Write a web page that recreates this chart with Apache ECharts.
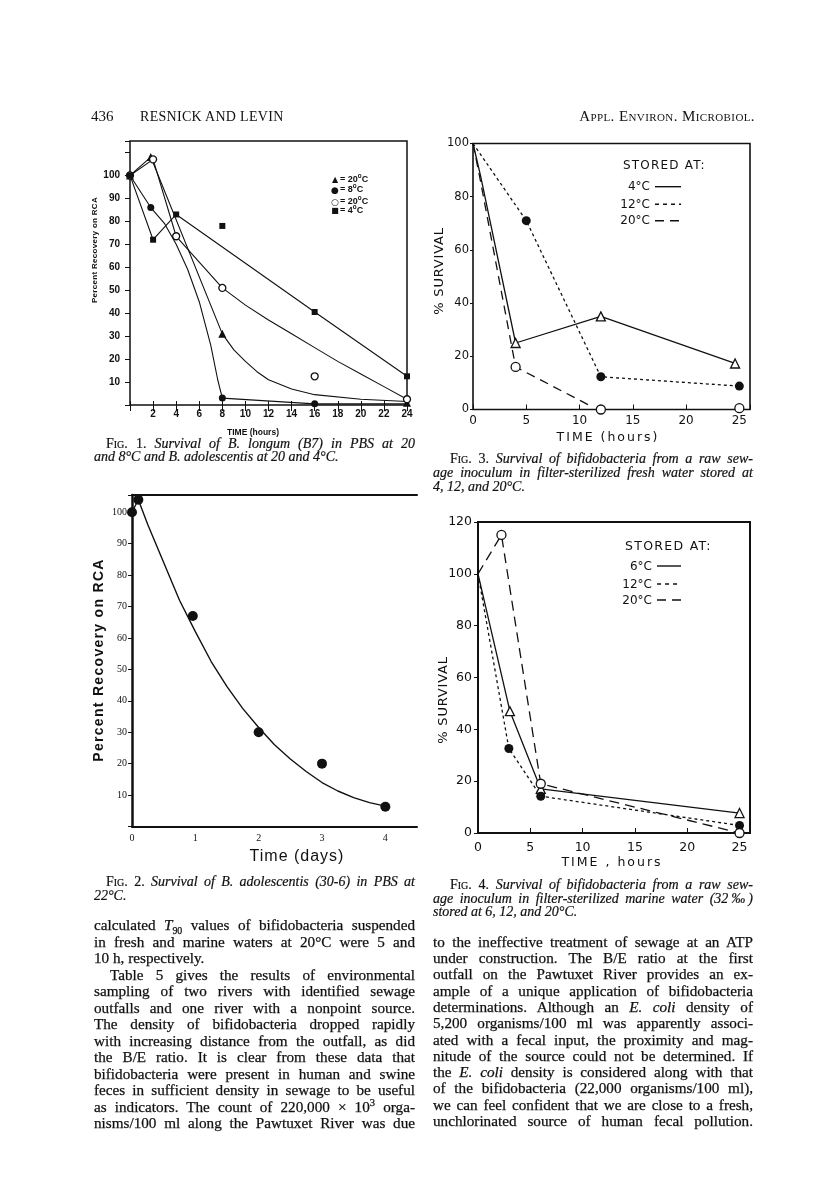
<!DOCTYPE html>
<html>
<head>
<meta charset="utf-8">
<script src="https://cdn.jsdelivr.net/npm/echarts@6/dist/echarts.min.js"></script>
<style>
body{margin:0;background:#fff;}
#page{position:relative;width:816px;height:1198px;overflow:hidden;background:#fff;color:#111;}
#chart{position:absolute;left:0;top:0;width:816px;height:1198px;}
.t{position:absolute;white-space:nowrap;line-height:1;}
.c{transform:translate(-50%,-50%);}
.rot{transform:translate(-50%,-50%) rotate(-90deg);}
.sans{font-family:"Liberation Sans",Arial,sans-serif;}
.lett{font-family:"DejaVu Sans",sans-serif;}
.body{position:absolute;font:15.2px/16px "Liberation Serif",serif;white-space:nowrap;text-align:justify;text-align-last:justify;-webkit-text-stroke:0.25px #111;}
.cap{position:absolute;font:italic 14px/14px "Liberation Serif",serif;white-space:nowrap;text-align:justify;text-align-last:justify;-webkit-text-stroke:0.2px #111;}
.body.last,.cap.last{text-align-last:left;}
.sc{font-style:normal;font-variant:small-caps;}
.up{font-style:normal;}
sup{font-size:70%;line-height:0;}
sub{font-size:65%;line-height:0;}
</style>
</head>
<body>
<div id="page">
<div id="chart"></div>

<!-- page header -->
<div class="t" style="left:91px;top:108px;font:15px 'Liberation Serif',serif">436</div>
<div class="t" style="left:140px;top:109px;font:14px 'Liberation Serif',serif;letter-spacing:0.3px">RESNICK AND LEVIN</div>
<div class="t" style="right:61px;top:108px;font:15px 'Liberation Serif',serif;font-variant:small-caps;letter-spacing:0.4px">Appl. Environ. Microbiol.</div>

<!-- fig 1 texts -->
<div class="t rot sans" style="left:95px;top:250px;font-weight:bold;font-size:8px;letter-spacing:0.3px">Percent Recovery on RCA</div>
<div class="t c sans" style="left:253px;top:432px;font-weight:bold;font-size:8.5px">TIME (hours)</div>
<div class="t c lett" style="left:335px;top:180px;font-size:8px">▲</div>
<div class="t c lett" style="left:335px;top:189.5px;font-size:9px">●</div>
<div class="t c lett" style="left:335px;top:201.5px;font-size:9px">○</div>
<div class="t c lett" style="left:335px;top:211px;font-size:8px">■</div>
<div class="t sans" style="left:340px;top:175px;font-weight:bold;font-size:9px">= 20<sup>o</sup>C</div>
<div class="t sans" style="left:340px;top:184.5px;font-weight:bold;font-size:9px">= 8<sup>o</sup>C</div>
<div class="t sans" style="left:340px;top:196.5px;font-weight:bold;font-size:9px">= 20<sup>o</sup>C</div>
<div class="t sans" style="left:340px;top:206px;font-weight:bold;font-size:9px">= 4<sup>o</sup>C</div>
<div class="cap" style="left:106px;top:437px;width:309px"><span class="sc">Fig.</span> <span class="up">1.</span> Survival of B. longum (B7) in PBS at 20</div>
<div class="cap last" style="left:94px;top:450px;width:321px">and 8°C and B. adolescentis at 20 and 4°C.</div>

<!-- fig 3 texts -->
<div class="t rot lett" style="left:438px;top:271px;font-size:13px;letter-spacing:0.8px">% SURVIVAL</div>
<div class="t c lett" style="left:608px;top:437px;font-size:12.5px;letter-spacing:2px">TIME (hours)</div>
<div class="t lett" style="left:623px;top:159px;font-size:12px;letter-spacing:1.2px">STORED AT:</div>
<div class="t lett" style="right:166px;top:180px;font-size:12px">4°C</div>
<div class="t lett" style="right:166px;top:198px;font-size:12px">12°C</div>
<div class="t lett" style="right:166px;top:214px;font-size:12px">20°C</div>
<svg style="position:absolute;left:654px;top:180px" width="30" height="46">
  <line x1="1" y1="6.7" x2="27" y2="6.7" stroke="#111" stroke-width="1.4"/>
  <line x1="1" y1="24.3" x2="27" y2="24.3" stroke="#111" stroke-width="1.4" stroke-dasharray="4 4"/>
  <line x1="1" y1="40.7" x2="27" y2="40.7" stroke="#111" stroke-width="1.4" stroke-dasharray="9 6"/>
</svg>
<div class="cap" style="left:450px;top:451.5px;width:303px"><span class="sc">Fig.</span> <span class="up">3.</span> Survival of bifidobacteria from a raw sew-</div>
<div class="cap" style="left:433px;top:465.5px;width:320px">age inoculum in filter-sterilized fresh water stored at</div>
<div class="cap last" style="left:433px;top:479.5px;width:320px">4, 12, and 20°C.</div>

<!-- fig 2 texts -->
<div class="t rot sans" style="left:98px;top:660px;font-weight:bold;font-size:14px;letter-spacing:1.3px">Percent Recovery on RCA</div>
<div class="t c sans" style="left:297px;top:856px;font-size:16px;letter-spacing:1px">Time (days)</div>
<div class="cap" style="left:106px;top:875px;width:309px"><span class="sc">Fig.</span> <span class="up">2.</span> Survival of B. adolescentis (30-6) in PBS at</div>
<div class="cap last" style="left:94px;top:888.5px;width:321px">22°C.</div>

<!-- fig 4 texts -->
<div class="t rot lett" style="left:442px;top:700px;font-size:13px;letter-spacing:0.8px">% SURVIVAL</div>
<div class="t c lett" style="left:612px;top:862px;font-size:12.5px;letter-spacing:2px">TIME , hours</div>
<div class="t lett" style="left:625px;top:540px;font-size:12.5px;letter-spacing:1.3px">STORED AT:</div>
<div class="t lett" style="right:164px;top:560px;font-size:12px">6°C</div>
<div class="t lett" style="right:164px;top:578px;font-size:12px">12°C</div>
<div class="t lett" style="right:164px;top:594px;font-size:12px">20°C</div>
<svg style="position:absolute;left:656px;top:560px" width="30" height="46">
  <line x1="1" y1="6" x2="25" y2="6" stroke="#111" stroke-width="1.4"/>
  <line x1="1" y1="24" x2="25" y2="24" stroke="#111" stroke-width="1.4" stroke-dasharray="4 4"/>
  <line x1="1" y1="40" x2="27" y2="40" stroke="#111" stroke-width="1.4" stroke-dasharray="9 6"/>
</svg>
<div class="cap" style="left:450px;top:878px;width:303px"><span class="sc">Fig.</span> <span class="up">4.</span> Survival of bifidobacteria from a raw sew-</div>
<div class="cap" style="left:433px;top:891.5px;width:320px">age inoculum in filter-sterilized marine water (32‰)</div>
<div class="cap last" style="left:433px;top:905px;width:320px">stored at 6, 12, and 20°C.</div>

<!-- body text, left column -->
<div class="body" style="left:94px;top:917px;width:321px">calculated <i>T</i><sub>90</sub> values of bifidobacteria suspended</div>
<div class="body" style="left:94px;top:933.5px;width:321px">in fresh and marine waters at 20°C were 5 and</div>
<div class="body last" style="left:94px;top:950px;width:321px">10 h, respectively.</div>
<div class="body" style="left:110px;top:966.5px;width:305px">Table 5 gives the results of environmental</div>
<div class="body" style="left:94px;top:983px;width:321px">sampling of two rivers with identified sewage</div>
<div class="body" style="left:94px;top:999.5px;width:321px">outfalls and one river with a nonpoint source.</div>
<div class="body" style="left:94px;top:1016px;width:321px">The density of bifidobacteria dropped rapidly</div>
<div class="body" style="left:94px;top:1032.5px;width:321px">with increasing distance from the outfall, as did</div>
<div class="body" style="left:94px;top:1049px;width:321px">the B/E ratio. It is clear from these data that</div>
<div class="body" style="left:94px;top:1065.5px;width:321px">bifidobacteria were present in human and swine</div>
<div class="body" style="left:94px;top:1082px;width:321px">feces in sufficient density in sewage to be useful</div>
<div class="body" style="left:94px;top:1098.5px;width:321px">as indicators. The count of 220,000 × 10<sup>3</sup> orga-</div>
<div class="body" style="left:94px;top:1115px;width:321px">nisms/100 ml along the Pawtuxet River was due</div>

<!-- body text, right column -->
<div class="body" style="left:433px;top:933.7px;width:320px">to the ineffective treatment of sewage at an ATP</div>
<div class="body" style="left:433px;top:950px;width:320px">under construction. The B/E ratio at the first</div>
<div class="body" style="left:433px;top:966.3px;width:320px">outfall on the Pawtuxet River provides an ex-</div>
<div class="body" style="left:433px;top:982.6px;width:320px">ample of a unique application of bifidobacteria</div>
<div class="body" style="left:433px;top:998.9px;width:320px">determinations. Although an <i>E. coli</i> density of</div>
<div class="body" style="left:433px;top:1015.2px;width:320px">5,200 organisms/100 ml was apparently associ-</div>
<div class="body" style="left:433px;top:1031.5px;width:320px">ated with a fecal input, the proximity and mag-</div>
<div class="body" style="left:433px;top:1047.8px;width:320px">nitude of the source could not be determined. If</div>
<div class="body" style="left:433px;top:1064.1px;width:320px">the <i>E. coli</i> density is considered along with that</div>
<div class="body" style="left:433px;top:1080.4px;width:320px">of the bifidobacteria (22,000 organisms/100 ml),</div>
<div class="body" style="left:433px;top:1096.7px;width:320px">we can feel confident that we are close to a fresh,</div>
<div class="body" style="left:433px;top:1113px;width:320px">unchlorinated source of human fecal pollution.</div>
</div>

<script>
// ---- Fig. 1: B. longum / B. adolescentis in PBS (hours, % recovery) ----
const f1XLabels = [2, 4, 6, 8, 10, 12, 14, 16, 18, 20, 22, 24];
const f1YLabels = [10, 20, 30, 40, 50, 60, 70, 80, 90, 100];
const f1Tri = [[0, 100], [1.8, 108], [8, 31], [24, 1]];          // 20°C filled triangles
const f1Dot = [[0, 100], [1.8, 86], [8, 3], [16, 0.5]];          // 8°C filled circles
const f1Ring = [[0, 100], [2, 107], [4, 73.5], [8, 51], [16, 12.5], [24, 2.5]]; // 20°C open circles
const f1Sq = [[0, 100], [2, 72], [4, 83], [8, 78], [16, 40.5], [24, 12.5]];    // 4°C squares
// fitted curves, as drawn
const f1TriFit = [[0, 100], [1.8, 108], [8, 31], [9, 24], [10, 19], [11, 14.5], [12, 11], [14, 7], [16, 4.5], [20, 2.5], [24, 1.5]];
const f1DotFit = [[0, 100], [1.8, 86], [3, 79], [4, 70], [5, 59], [6, 45], [7, 26], [7.6, 11], [8, 3], [16, 0.5], [24, 0.5]];
const f1RingFit = [[0, 100], [2, 107], [4, 73.5], [8, 51], [10, 43.5], [12, 37], [14, 31], [16, 25], [18, 19], [20, 13.5], [22, 8], [24, 2.5]];
const f1SqFit = [[0, 100], [2, 72], [4, 83], [16, 40.5], [24, 12.5]];

// ---- Fig. 3: fresh water (hours, % survival) ----
const f3XLabels = [0, 5, 10, 15, 20, 25];
const f3YLabels = [0, 20, 40, 60, 80, 100];
const f3C4 = [[4, 25], [12, 35], [24.6, 17.3]];
const f3C12 = [[5, 71], [12, 12.3], [25, 8.8]];
const f3C20 = [[4, 16], [12, 0], [25, 0.5]];
const f3C4Line = [[0, 100], [0.7, 88], [4, 25], [12, 35], [24.6, 17.3]];
const f3C12Line = [[0, 100], [5, 71], [12, 12.3], [25, 8.8]];
const f3C20Line = [[0, 100], [0.6, 88], [4, 16], [11.2, 1]];

// ---- Fig. 2: B. adolescentis (30-6) at 22°C (days, % recovery) ----
const f2XLabels = [0, 1, 2, 3, 4];
const f2YLabels = [10, 20, 30, 40, 50, 60, 70, 80, 90, 100];
const f2Pts = [[0, 100], [0.1, 104], [0.96, 67], [2, 30], [3, 20], [4, 6.3]];
const f2Fit = [[0, 100], [0.1, 104], [0.25, 96], [0.5, 84], [0.75, 72], [1, 62], [1.25, 52.5], [1.5, 44.5],
  [1.75, 37.5], [2, 31.5], [2.25, 26], [2.5, 21.5], [2.75, 17.5], [3, 14], [3.25, 11.3], [3.5, 9.2], [3.75, 7.6], [4, 6.5]];

// ---- Fig. 4: marine water (hours, % survival) ----
const f4XLabels = [0, 5, 10, 15, 20, 25];
const f4YLabels = [0, 20, 40, 60, 80, 100, 120];
const f4C6 = [[3.05, 47], [6, 17], [25, 7.7]];
const f4C12 = [[2.95, 32.6], [6, 14.2], [25, 2.9]];
const f4C20 = [[2.24, 115], [6, 19], [25, 0]];
const f4C6Line = [[0, 100], [3.05, 47], [6, 17], [25, 7.7]];
const f4C12Line = [[0, 100], [2.95, 32.6], [6, 14.2], [25, 2.9]];
const f4C20Line = [[0, 100], [2.24, 115], [6, 19], [25, 0]];

const ink = '#111';
const only = list => v => (list.indexOf(v) >= 0 ? String(v) : '');

function lbl(list, size, family, weight, margin) {
  return { formatter: only(list), fontSize: size, fontFamily: family, fontWeight: weight || 'normal', color: ink, margin: margin };
}

function curve(xi, yi, data, dash, w) {
  return {
    type: 'line', xAxisIndex: xi, yAxisIndex: yi, data: data, symbol: 'none', silent: true,
    lineStyle: { color: ink, width: w || 1.2, type: dash || 'solid' }, z: 2
  };
}

function marks(xi, yi, data, symbol, filled, size) {
  return {
    type: 'scatter', xAxisIndex: xi, yAxisIndex: yi, data: data, symbol: symbol, symbolSize: size,
    itemStyle: { color: filled ? ink : '#fff', borderColor: ink, borderWidth: filled ? 0 : 1.3, opacity: 1 }, z: 3
  };
}

const noSplit = { show: false };
const chart = echarts.init(document.getElementById('chart'));

chart.setOption({
  animation: false,
  backgroundColor: 'transparent',
  grid: [
    { left: 130, top: 141, width: 277, height: 264, show: true, borderColor: ink, borderWidth: 1.5 },   // fig 1
    { left: 473, top: 143.5, width: 277, height: 266, show: true, borderColor: ink, borderWidth: 1.6 }, // fig 3
    { left: 132, top: 495, width: 285, height: 331.5 },                                                  // fig 2
    { left: 478, top: 522, width: 272, height: 311, show: true, borderColor: ink, borderWidth: 2 }      // fig 4
  ],
  xAxis: [
    { gridIndex: 0, type: 'value', min: 0, max: 24, interval: 2, axisLine: { show: false },
      axisTick: { inside: true, length: 4, lineStyle: { color: ink } },
      axisLabel: lbl(f1XLabels, 10, 'Liberation Sans', 'bold', 4), splitLine: noSplit },
    { gridIndex: 0, type: 'value', position: 'top', min: 0, max: 24, interval: 2, axisLine: { show: false },
      axisTick: { inside: true, length: 6, lineStyle: { color: ink } }, axisLabel: { show: false }, splitLine: noSplit },
    { gridIndex: 1, type: 'value', min: 0, max: 26, interval: 5, axisLine: { show: false },
      axisTick: { inside: true, length: 5, lineStyle: { color: ink } },
      axisLabel: lbl(f3XLabels, 12, 'DejaVu Sans', 'normal', 5), splitLine: noSplit },
    { gridIndex: 2, type: 'value', min: 0, max: 4.5, interval: 1,
      axisLine: { show: true, lineStyle: { color: ink, width: 2 } }, axisTick: { show: false },
      axisLabel: lbl(f2XLabels, 10, 'Liberation Sans Narrow', 'normal', 7), splitLine: noSplit },
    { gridIndex: 2, type: 'value', position: 'top', min: 0, max: 4.5,
      axisLine: { show: true, lineStyle: { color: ink, width: 2 } }, axisTick: { show: false },
      axisLabel: { show: false }, splitLine: noSplit },
    { gridIndex: 3, type: 'value', min: 0, max: 26, interval: 5, axisLine: { show: false },
      axisTick: { inside: true, length: 5, lineStyle: { color: ink } },
      axisLabel: lbl(f4XLabels, 12.5, 'DejaVu Sans', 'normal', 8), splitLine: noSplit }
  ],
  yAxis: [
    { gridIndex: 0, type: 'value', min: 0, max: 115, interval: 10, axisLine: { show: false }, axisTick: { show: false },
      axisLabel: lbl(f1YLabels, 10, 'Liberation Sans', 'bold', 10), splitLine: noSplit },
    { gridIndex: 0, type: 'value', position: 'right', min: 0, max: 115, interval: 10, axisLine: { show: false },
      axisTick: { inside: true, length: 5, lineStyle: { color: ink } }, axisLabel: { show: false }, splitLine: noSplit },
    { gridIndex: 1, type: 'value', min: 0, max: 100, interval: 20, axisLine: { show: false },
      axisTick: { length: 3, lineStyle: { color: ink } },
      axisLabel: lbl(f3YLabels, 11.5, 'DejaVu Sans', 'normal', 4), splitLine: noSplit },
    { gridIndex: 2, type: 'value', min: 0, max: 105.5, interval: 10,
      axisLine: { show: true, lineStyle: { color: ink, width: 2.5 } },
      axisTick: { length: 4, lineStyle: { color: ink } },
      axisLabel: lbl(f2YLabels, 10, 'Liberation Sans Narrow', 'normal', 5), splitLine: noSplit },
    { gridIndex: 3, type: 'value', min: 0, max: 120, interval: 20, axisLine: { show: false },
      axisTick: { length: 4, lineStyle: { color: ink } },
      axisLabel: lbl(f4YLabels, 12.5, 'DejaVu Sans', 'normal', 6), splitLine: noSplit }
  ],
  series: [
    // fig 1
    curve(0, 0, f1TriFit, 'solid', 1.1),
    curve(0, 0, f1DotFit, 'solid', 1.1),
    curve(0, 0, f1RingFit, 'solid', 1.1),
    curve(0, 0, f1SqFit, 'solid', 1.1),
    marks(0, 0, f1Tri, 'triangle', true, 8),
    marks(0, 0, f1Dot, 'circle', true, 7),
    marks(0, 0, f1Ring, 'circle', false, 7),
    marks(0, 0, f1Sq, 'rect', true, 6),
    // fig 3
    curve(2, 2, f3C4Line, 'solid', 1.3),
    curve(2, 2, f3C12Line, [3, 3], 1.3),
    curve(2, 2, f3C20Line, [9, 6], 1.3),
    marks(2, 2, f3C4, 'triangle', false, 9),
    marks(2, 2, f3C12, 'circle', true, 9),
    marks(2, 2, f3C20, 'circle', false, 9),
    // fig 2
    curve(3, 3, f2Fit, 'solid', 1.4),
    marks(3, 3, f2Pts, 'circle', true, 10),
    // fig 4
    curve(5, 4, f4C6Line, 'solid', 1.3),
    curve(5, 4, f4C12Line, [3, 3], 1.3),
    curve(5, 4, f4C20Line, [10, 6], 1.3),
    marks(5, 4, f4C6, 'triangle', false, 9),
    marks(5, 4, f4C12, 'circle', true, 9),
    marks(5, 4, f4C20, 'circle', false, 9)
  ]
});
</script>
</body>
</html>
